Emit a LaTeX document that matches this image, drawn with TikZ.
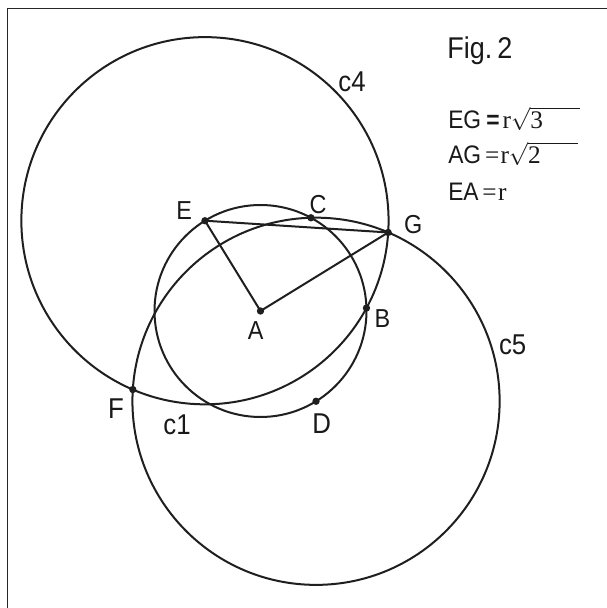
\documentclass[tikz,border=0pt]{standalone}
\usepackage{fontspec}
\newfontfamily\lab[FakeStretch=0.9]{Liberation Sans}
\newfontfamily\ser{Liberation Serif}
\usetikzlibrary{calc}
\newcommand{\myroot}[1]{$\sqrt{\mbox{\ser #1\hspace{1.45em}}}$}
\begin{document}
\begin{tikzpicture}[x=0.75pt,y=0.75pt,
  geo/.style={line width=1.5pt, draw=black!88},
  dot/.style={circle, fill=black!88, inner sep=0pt, minimum size=5.5pt},
  lbl/.style={inner sep=0pt, anchor=base, text=black!90},
  sa/.style={font=\lab\fontsize{19.5pt}{20pt}\selectfont},
  sb/.style={font=\lab\fontsize{21.5pt}{22pt}\selectfont},
  frm/.style={inner sep=0pt, anchor=base west, text=black!90, font=\lab\fontsize{19pt}{20pt}\selectfont}]
\useasboundingbox (0,0) rectangle (607,608);
\draw[line width=0.8pt, black!85] (7.5,0) -- (7.5,599.7) -- (607,599.7);
\coordinate (A) at (260.5,297);
\coordinate (E) at ($(A)+(121.6:106)$);
\coordinate (C) at ($(A)+(61.6:106)$);
\coordinate (B) at ($(A)+(1.6:106)$);
\coordinate (D) at ($(A)+(-58.4:106)$);
\coordinate (G) at ($(A)+(31.6:149.9)$);
\coordinate (F) at ($(A)+(211.6:149.9)$);
% circles
\draw[geo] (E) circle[radius=183.6];
\draw[geo] (D) circle[radius=183.6];
\draw[geo] (A) circle[radius=106];
% segments
\draw[geo] (E) -- (A);
\draw[geo] (A) -- (G);
\draw[geo] (E) -- (G);
% dots
\foreach \p in {A,B,C,D,E,F,G} \node[dot] (d\p) at (\p) {};
% labels
\node[lbl,sa] (lA) at (255.7,268) {A};
\node[lbl,sa] (lB) at (382.5,280.7) {B};
\node[lbl,sa] (lE) at (184.3,388.7) {E};
\node[lbl,sa] (lC) at (318,394.7) {C};
\node[lbl,sa] (lG) at (413.3,374.7) {G};
\node[lbl,sb] (lF) at (116,189) {F};
\node[lbl,sb] (lD) at (321.7,174) {D};
\node[lbl,sb] (lc1) at (177,173) {c1};
\node[lbl,sb] (lc4) at (352,516.3) {c4};
\node[lbl,sb] (lc5) at (512.7,253) {c5};
\node[inner sep=0pt, anchor=base west, text=black!90, font=\lab\fontsize{22.5pt}{23pt}\selectfont] (fig) at (447,549.7) {Fig.\,2};
\node[frm] (f1) at (448,479.7) {EG\hspace{0.2em}{\bfseries =}\hspace{0.12em}{\ser r}\myroot{3}};
\node[frm] (f2) at (448,444.7) {AG\hspace{0.15em}{\ser =}\hspace{0.05em}{\ser r}\myroot{2}};
\node[frm] (f3) at (448,407) {EA\hspace{0.15em}{\ser =}\hspace{0.05em}{\ser r}};
\end{tikzpicture}
\end{document}
